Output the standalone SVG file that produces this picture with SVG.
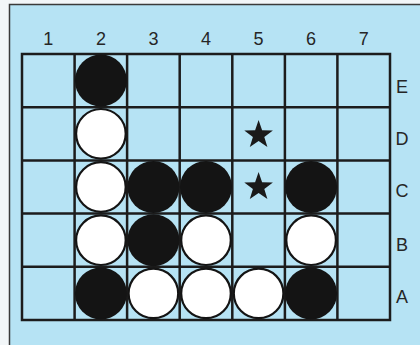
<svg xmlns="http://www.w3.org/2000/svg" width="420" height="345" viewBox="0 0 420 345">
<defs>
<style>
.grid{stroke:#1c1c1c;stroke-width:2.5;fill:none}
.lbl{font-family:"Liberation Sans","DejaVu Sans",sans-serif;font-size:18px;fill:#262626;text-anchor:middle}
.b{fill:#141414}
.w{fill:#ffffff;stroke:#141414;stroke-width:2.2}
.star{fill:#1a1a1a}
</style>
<polygon id="st" points="0,-15 3.5,-4.8 14.3,-4.6 5.7,1.9 8.8,12.1 0,6 -8.8,12.1 -5.7,1.9 -14.3,-4.6 -3.5,-4.8"/>
</defs>
<rect x="0" y="0" width="420" height="345" fill="#f2f6f8"/>
<rect x="9" y="4" width="411" height="341" fill="#b6e3f4"/>
<path d="M9.5 345 V4.5 H420" stroke="#3a3a3a" stroke-width="1.5" fill="none"/>
<g id="connectors">
<rect class="grid" x="22" y="54" width="368" height="266"/>
<path class="grid" d="M74.6 54V320M127.1 54V320M179.7 54V320M232.3 54V320M284.9 54V320M337.4 54V320M22 107.2H390M22 160.4H390M22 213.6H390M22 266.8H390"/>
</g>
<g id="labels">
<text class="lbl" x="48.3" y="45">1</text>
<text class="lbl" x="100.9" y="45">2</text>
<text class="lbl" x="153.4" y="45">3</text>
<text class="lbl" x="206" y="45">4</text>
<text class="lbl" x="258.6" y="45">5</text>
<text class="lbl" x="311.1" y="45">6</text>
<text class="lbl" x="363.7" y="45">7</text>
<text class="lbl" x="402" y="93">E</text>
<text class="lbl" x="402" y="145">D</text>
<text class="lbl" x="402" y="197">C</text>
<text class="lbl" x="402" y="251">B</text>
<text class="lbl" x="402" y="303">A</text>
</g>
<g id="E2"><circle class="b" cx="100.9" cy="80.6" r="26"/></g>
<g id="D2"><circle class="w" cx="100.9" cy="133.8" r="24.8"/></g>
<g id="C2"><circle class="w" cx="100.9" cy="187" r="24.8"/></g>
<g id="C3"><circle class="b" cx="153.4" cy="187" r="26"/></g>
<g id="C4"><circle class="b" cx="206" cy="187" r="26"/></g>
<g id="C6"><circle class="b" cx="311.1" cy="187" r="26"/></g>
<g id="B2"><circle class="w" cx="100.9" cy="240.2" r="24.8"/></g>
<g id="B3"><circle class="b" cx="153.4" cy="240.2" r="26"/></g>
<g id="B4"><circle class="w" cx="206" cy="240.2" r="24.8"/></g>
<g id="B6"><circle class="w" cx="311.1" cy="240.2" r="24.8"/></g>
<g id="A2"><circle class="b" cx="100.9" cy="293.4" r="26"/></g>
<g id="A3"><circle class="w" cx="153.4" cy="293.4" r="24.8"/></g>
<g id="A4"><circle class="w" cx="206" cy="293.4" r="24.8"/></g>
<g id="A5"><circle class="w" cx="258.6" cy="293.4" r="24.8"/></g>
<g id="A6"><circle class="b" cx="311.1" cy="293.4" r="26"/></g>
<g id="D5"><use href="#st" class="star" x="258.6" y="135"/></g>
<g id="C5"><use href="#st" class="star" x="258.6" y="187"/></g>
</svg>
